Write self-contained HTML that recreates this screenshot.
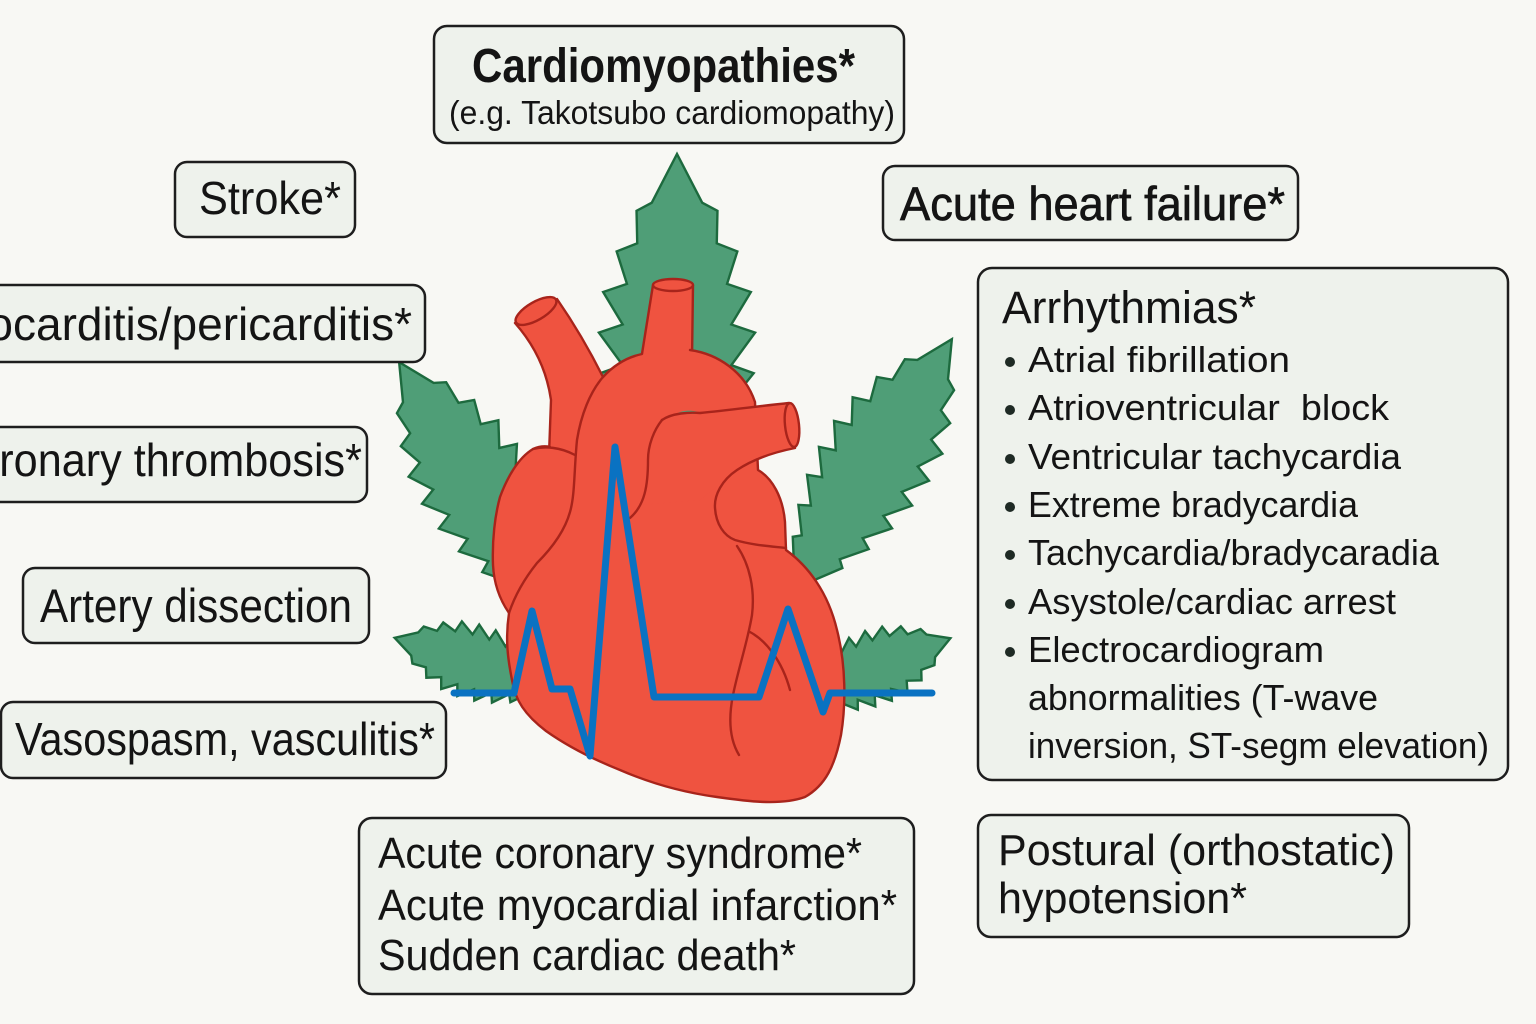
<!DOCTYPE html>
<html><head><meta charset="utf-8"><style>
html,body{margin:0;padding:0;background:#f8f8f4;}
body{width:1536px;height:1024px;overflow:hidden;}
svg{display:block;}
text{font-family:"Liberation Sans",sans-serif;fill:#141414;}
</style></head><body>
<svg width="1536" height="1024" viewBox="0 0 1536 1024" xmlns="http://www.w3.org/2000/svg">
<defs>
<path id="leaf" vector-effect="non-scaling-stroke" fill="#4f9e77" stroke="#1d6a3e" stroke-width="2.4" stroke-linejoin="miter" d="M0,-2 L8,-5 L16,-11.5 L18,-8.8 L26,-16.3 L28,-12 L36,-19.7 L38,-14.2 L46,-21.6 L48,-15.3 L56,-22 L58,-15.3 L66,-20.8 L68,-14.1 L76,-17 L78,-11.2 L86,-11.4 L88,-7.1 L100,0 L88,7.1 L86,11.4 L78,11.2 L76,17 L68,14.1 L66,20.8 L58,15.3 L56,22 L48,15.3 L46,21.6 L38,14.2 L36,19.7 L28,12 L26,16.3 L18,8.8 L16,11.5 L8,5 L0,2 Z"/>
</defs>

<!-- leaves -->
<use href="#leaf" transform="translate(677,560) rotate(-90) scale(4.06,3.55)"/>
<use href="#leaf" transform="translate(559,616) rotate(-122.2) scale(3.0,2.55)"/>
<use href="#leaf" transform="translate(792,593) rotate(-57.8) scale(3.0,2.55)"/>
<use href="#leaf" transform="translate(562,689) rotate(-163) scale(1.75,1.7)"/>
<use href="#leaf" transform="translate(787,701) rotate(-21) scale(1.75,1.7)"/>

<!-- heart -->
<g fill="#ef5340" stroke="#a8241b" stroke-width="2.4" stroke-linejoin="round" stroke-linecap="round">
  <!-- SVC tube -->
  <path d="M515,323 C530,340 546,365 551,400 L549,455 L610,455 L603,377 C592,355 575,325 557,299 Z"/>
  <ellipse cx="536" cy="311" rx="23" ry="9" transform="rotate(-30 536 311)"/>
  <!-- aorta vertical -->
  <path d="M653,285 L641,360 L692,360 L693,285 Z"/>
  <ellipse cx="673" cy="285" rx="20" ry="6"/>
</g>
<!-- main body fill -->
<path fill="#ef5340" stroke="none" d="M603,377 C615,364 628,357 642,354 L690,350 C718,354 745,372 755,402 L758,470 C772,478 783,497 785,522 L786,550 C808,566 828,592 837,630 C846,665 846,705 841,735 C835,765 826,785 805,797 C780,806 745,801 717,797 C680,792 650,783 620,770 C595,760 570,748 546,731 C525,715 515,700 512,680 C508,660 505,640 509,613 C500,600 494,585 493,565 C492,540 495,515 500,497 C507,478 518,458 533,449 C540,446 546,446 552,447 L557,400 Z"/>
<g fill="none" stroke="#a8241b" stroke-width="2.4" stroke-linejoin="round" stroke-linecap="round">
  <path d="M603,377 C615,364 628,357 642,354 M690,350 C718,354 745,372 755,402 L758,470 C772,478 783,497 785,522 L786,550 C808,566 828,592 837,630 C846,665 846,705 841,735 C835,765 826,785 805,797 C780,806 745,801 717,797 C680,792 650,783 620,770 C595,760 570,748 546,731 C525,715 515,700 512,680 C508,660 505,640 509,613 C500,600 494,585 493,565 C492,540 495,515 500,497 C507,478 518,458 533,449 C540,446 546,446 550,447"/>
</g>
<g fill="#ef5340" stroke="#a8241b" stroke-width="2.4" stroke-linejoin="round" stroke-linecap="round">
  <!-- arch fill -->
  <path stroke="none" d="M647,483 C648,460 650,435 662,420 C675,413 690,412 700,413 C730,410 760,406 789,403 L795,448 C775,452 755,458 737,470 L700,500 L640,505 Z"/>
  <ellipse cx="792" cy="425" rx="7" ry="22" transform="rotate(-6 792 425)"/>
</g>
<!-- green sliver in arch -->
<path d="M676,414 C684,409 696,410 702,414 Z" fill="#4f9e77" stroke="none"/>
<g fill="none" stroke="#a8241b" stroke-width="2.4" stroke-linecap="round" stroke-linejoin="round">
  <path d="M662,420 C672,413 690,412 700,413 C730,410 760,406 789,403"/>
  <path d="M795,448 C775,452 755,458 737,470 C722,480 714,495 715,508 C716,524 724,536 735,540 C752,545 768,546 786,548"/>
  <path d="M662,420 C654,430 648,445 648,460 C648,485 645,505 630,518"/>
  <path d="M603,377 C590,392 581,415 577,440 C574,470 575,495 570,512 C565,530 552,548 537,563 C525,578 515,595 509,613"/>
  <path d="M533,449 C545,446 560,447 575,455"/>
  <path d="M737,546 C750,565 755,590 752,615 C748,640 738,670 733,695 C728,720 730,740 739,755"/>
  <path d="M750,632 C765,640 782,660 790,690"/>
</g>

<!-- ECG -->
<polyline fill="none" stroke="#0a72c2" stroke-width="7" stroke-linecap="round" stroke-linejoin="round" points="454,693 514,693 532,611 552,689 570,689 590,756 615,447 654,697 759,697 788,609 823,712 830,693 932,693"/>

<!-- boxes -->
<g fill="#eef2ec" stroke="#1e1e1e" stroke-width="2.5">
  <rect x="434" y="26" width="470" height="117" rx="13"/>
  <rect x="175" y="162" width="180" height="75" rx="12"/>
  <rect x="-30" y="285" width="455" height="77" rx="12"/>
  <rect x="-30" y="427" width="397" height="75" rx="12"/>
  <rect x="23" y="568" width="346" height="75" rx="12"/>
  <rect x="1" y="702" width="445" height="76" rx="12"/>
  <rect x="883" y="166" width="415" height="74" rx="12"/>
  <rect x="978" y="268" width="530" height="512" rx="14"/>
  <rect x="978" y="815" width="431" height="122" rx="13"/>
  <rect x="359" y="818" width="555" height="176" rx="13"/>
</g>

<!-- texts -->
<text x="472" y="82" font-size="48" font-weight="bold" textLength="383" lengthAdjust="spacingAndGlyphs">Cardiomyopathies*</text>
<text x="449" y="124" font-size="33" textLength="446" lengthAdjust="spacingAndGlyphs">(e.g. Takotsubo cardiomopathy)</text>

<text x="199" y="214" font-size="46" textLength="142" lengthAdjust="spacingAndGlyphs">Stroke*</text>
<text x="-74" y="340" font-size="46" textLength="486" lengthAdjust="spacingAndGlyphs">Myocarditis/pericarditis*</text>
<text x="-56" y="476" font-size="46" textLength="418" lengthAdjust="spacingAndGlyphs">Coronary thrombosis*</text>
<text x="40" y="622" font-size="47" textLength="312" lengthAdjust="spacingAndGlyphs">Artery dissection</text>
<text x="15" y="755" font-size="46" textLength="420" lengthAdjust="spacingAndGlyphs">Vasospasm, vasculitis*</text>

<text x="900" y="220" font-size="47" stroke="#141414" stroke-width="0.7" textLength="385" lengthAdjust="spacingAndGlyphs">Acute heart failure*</text>

<text x="1002" y="323" font-size="45" textLength="254" lengthAdjust="spacingAndGlyphs">Arrhythmias*</text>
<g fill="#1e2a24">
  <circle cx="1010" cy="362" r="5"/>
  <circle cx="1010" cy="410" r="5"/>
  <circle cx="1010" cy="459" r="5"/>
  <circle cx="1010" cy="507" r="5"/>
  <circle cx="1010" cy="555" r="5"/>
  <circle cx="1010" cy="604" r="5"/>
  <circle cx="1010" cy="652" r="5"/>
</g>
<g font-size="36">
<text x="1028" y="372" textLength="262" lengthAdjust="spacingAndGlyphs">Atrial fibrillation</text>
<text x="1028" y="420" textLength="361" lengthAdjust="spacingAndGlyphs" xml:space="preserve">Atrioventricular  block</text>
<text x="1028" y="469" textLength="373" lengthAdjust="spacingAndGlyphs">Ventricular tachycardia</text>
<text x="1028" y="517" textLength="330" lengthAdjust="spacingAndGlyphs">Extreme bradycardia</text>
<text x="1028" y="565" textLength="411" lengthAdjust="spacingAndGlyphs">Tachycardia/bradycaradia</text>
<text x="1028" y="614" textLength="368" lengthAdjust="spacingAndGlyphs">Asystole/cardiac arrest</text>
<text x="1028" y="662" textLength="296" lengthAdjust="spacingAndGlyphs">Electrocardiogram</text>
<text x="1028" y="710" textLength="350" lengthAdjust="spacingAndGlyphs">abnormalities (T-wave</text>
<text x="1028" y="758" textLength="461" lengthAdjust="spacingAndGlyphs">inversion, ST-segm elevation)</text>
</g>

<text x="998" y="865" font-size="44" textLength="397" lengthAdjust="spacingAndGlyphs">Postural (orthostatic)</text>
<text x="998" y="913" font-size="44" textLength="249" lengthAdjust="spacingAndGlyphs">hypotension*</text>

<text x="378" y="868" font-size="44" textLength="484" lengthAdjust="spacingAndGlyphs">Acute coronary syndrome*</text>
<text x="378" y="920" font-size="44" textLength="519" lengthAdjust="spacingAndGlyphs">Acute myocardial infarction*</text>
<text x="378" y="970" font-size="44" textLength="418" lengthAdjust="spacingAndGlyphs">Sudden cardiac death*</text>
</svg>
</body></html>
